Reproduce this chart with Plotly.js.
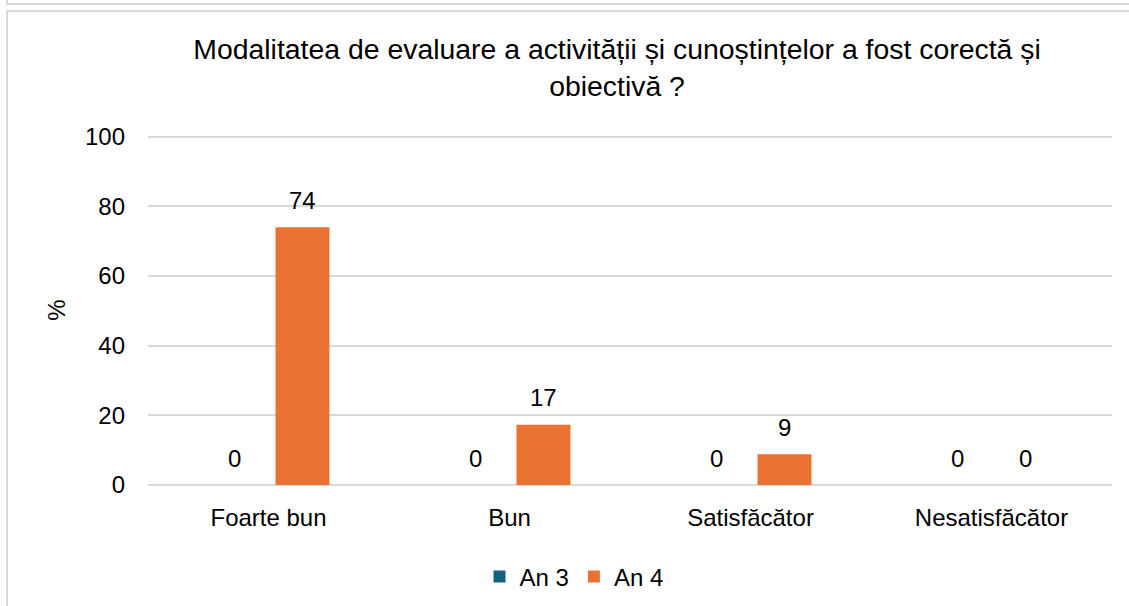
<!DOCTYPE html>
<html>
<head>
<meta charset="utf-8">
<script src="https://cdn.plot.ly/plotly-3.0.1.min.js"></script>
<style>
  html, body { margin: 0; padding: 0; background: #fff; width: 1129px; height: 606px; overflow: hidden; }
  #chart { position: absolute; left: 0; top: 0; width: 1129px; height: 606px; }
  .ln { position: absolute; background: #d9d9d9; pointer-events: none; }
</style>
</head>
<body>
<div id="chart"></div>
<div class="ln" style="left:6px; top:0px; width:2px; height:5px;"></div>
<div class="ln" style="left:6px; top:3px; width:1123px; height:2px;"></div>
<div class="ln" style="left:6px; top:10px; width:1123px; height:2px;"></div>
<div class="ln" style="left:6px; top:10px; width:2px; height:596px;"></div>
<script>
const categories = ["Foarte bun", "Bun", "Satisfăcător", "Nesatisfăcător"];
const seriesNames = ["An 3", "An 4"];
const an3 = [0, 0, 0, 0];
const an4 = [74, 17.3, 8.8, 0];
const an3Labels = ["0", "0", "0", "0"];
const an4Labels = ["74", "17", "9", "0"];
const yTicks = [0, 20, 40, 60, 80, 100];
const titleText = "Modalitatea de evaluare a activității și cunoștințelor a fost corectă și<br>obiectivă ?";
const yTitle = "%";

const W = 1129, H = 606;
const margin = {l: 148, r: 17, t: 135, b: 121};
const plotW = W - margin.l - margin.r;
const bargap = 0.436;
const slot = plotW / categories.length * (1 - bargap) / 2;
const FONT = "Liberation Sans, Arial, sans-serif";
const colors = ["#156082", "#E97132"];

const traces = [
  {type: "bar", name: seriesNames[0], x: categories, y: an3, marker: {color: colors[0]}, hoverinfo: "skip"},
  {type: "bar", name: seriesNames[1], x: categories, y: an4, marker: {color: colors[1]}, hoverinfo: "skip"}
];

const annotations = [];
[[an3, an3Labels, -1], [an4, an4Labels, 1]].forEach(([vals, labs, side]) => {
  vals.forEach((v, i) => {
    annotations.push({
      x: categories[i], y: v, xref: "x", yref: "y",
      text: labs[i], showarrow: false,
      xshift: side * slot / 2, yshift: 27,
      xanchor: "center", yanchor: "middle",
      font: {family: FONT, size: 24, color: "#000"}
    });
  });
});

const layout = {
  width: W, height: H,
  margin: margin,
  paper_bgcolor: "rgba(0,0,0,0)",
  plot_bgcolor: "rgba(0,0,0,0)",
  font: {family: FONT, size: 24, color: "#000"},
  title: {
    text: titleText,
    font: {family: FONT, size: 28.4, color: "#000"},
    xref: "container", yref: "container",
    x: 617 / W, xanchor: "center",
    y: 1 - 59 / H, yanchor: "middle"
  },
  barmode: "group",
  bargap: bargap,
  bargroupgap: 0.206,
  showlegend: true,
  legend: {
    orientation: "h",
    xref: "container", yref: "container",
    x: 574 / W, xanchor: "center",
    y: 1 - 577 / H, yanchor: "middle",
    font: {family: FONT, size: 24, color: "#000"},
    itemclick: false, itemdoubleclick: false,
    traceorder: "normal"
  },
  xaxis: {
    type: "category",
    showgrid: false, showline: false, zeroline: false,
    ticks: "", ticklabelstandoff: 16,
    tickfont: {family: FONT, size: 24, color: "#000"},
    fixedrange: true
  },
  yaxis: {
    range: [0, 100.5], tickvals: yTicks,
    showgrid: true, gridcolor: "#d9d9d9", gridwidth: 2,
    zeroline: true, zerolinecolor: "#d9d9d9", zerolinewidth: 2,
    showline: false, ticks: "", ticklabelstandoff: 22,
    tickfont: {family: FONT, size: 24, color: "#000"},
    title: {text: yTitle, font: {family: FONT, size: 24, color: "#000"}, standoff: 12},
    fixedrange: true
  },
  annotations: annotations
};

Plotly.newPlot("chart", traces, layout, {displayModeBar: false, staticPlot: true});
</script>
</body>
</html>
